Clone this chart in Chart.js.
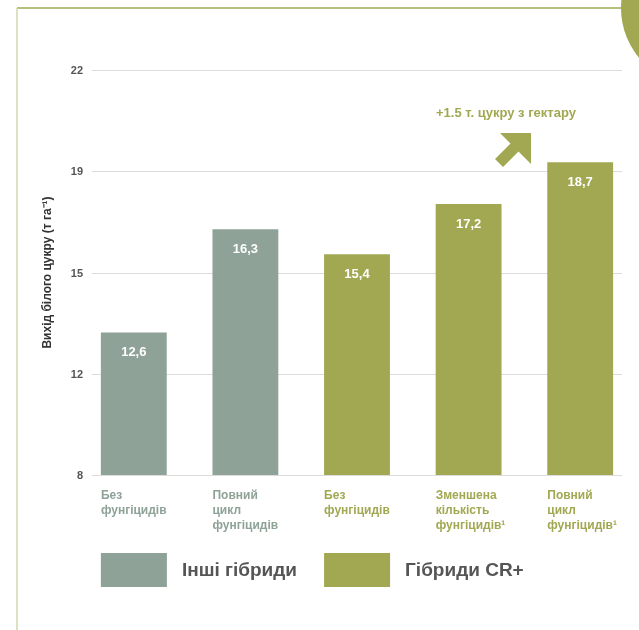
<!DOCTYPE html>
<html lang="uk">
<head>
<meta charset="utf-8">
<title>Вихід білого цукру</title>
<script src="https://cdn.jsdelivr.net/npm/chart.js@4"></script>
<style>
  html, body { margin: 0; padding: 0; background: #fff; }
  #wrap { position: relative; width: 639px; height: 630px; }
</style>
</head>
<body>
<div id="wrap"><canvas id="sugar"></canvas></div>
<script>
// data
const categories = [
  ["Без", "фунгіцидів"],
  ["Повний", "цикл", "фунгіцидів"],
  ["Без", "фунгіцидів"],
  ["Зменшена", "кількість", "фунгіцидів¹"],
  ["Повний", "цикл", "фунгіцидів¹"]
];
const otherHybrids = [12.6, 16.3, null, null, null];
const crHybrids = [null, null, 15.4, 17.2, 18.7];
const seriesNames = ["Інші гібриди", "Гібриди CR+"];
const yTickLabels = [8, 12, 15, 19, 22];
const yTitle = "Вихід білого цукру (т га⁻¹)";
const noteText = "+1.5 т. цукру з гектару";

const GREY = "#8ea297";
const OLIVE = "#a1a851";
const FONT = "'Liberation Sans', Arial, Helvetica, sans-serif";

// frame, grid, labels, legend and the arrow note
const extras = {
  id: "extras",
  beforeDraw(chart) {
    const ctx = chart.ctx;
    ctx.save();
    // top-right disc
    ctx.fillStyle = OLIVE;
    ctx.beginPath();
    ctx.arc(699, 8, 78, 0, Math.PI * 2);
    ctx.fill();
    // frame lines
    ctx.strokeStyle = OLIVE;
    ctx.lineWidth = 1.5;
    ctx.beginPath();
    ctx.moveTo(17, 8);
    ctx.lineTo(625, 8);
    ctx.stroke();
    ctx.strokeStyle = "#d2d7ae";
    ctx.beginPath();
    ctx.moveTo(17, 8);
    ctx.lineTo(17, 630);
    ctx.stroke();
    ctx.restore();
  },
  beforeDatasetsDraw(chart) {
    const ctx = chart.ctx;
    const y = chart.scales.y;
    const area = chart.chartArea;
    ctx.save();
    ctx.strokeStyle = "#dcdcdc";
    ctx.lineWidth = 1;
    ctx.fillStyle = "#555555";
    ctx.font = "bold 11px " + FONT;
    ctx.textAlign = "right";
    ctx.textBaseline = "middle";
    y.ticks.forEach((t, i) => {
      const py = Math.round(y.getPixelForTick(i)) + 0.5;
      ctx.beginPath();
      ctx.moveTo(area.left + 14, py);
      ctx.lineTo(area.right - 14, py);
      ctx.stroke();
      // tick label sits just left of the grid line
      ctx.fillText(yTickLabels[i], area.left + 5, py);
    });
    ctx.restore();
  },
  afterDatasetsDraw(chart) {
    const ctx = chart.ctx;
    const area = chart.chartArea;
    ctx.save();

    // values inside bars + category labels under them
    chart.data.datasets.forEach((ds, d) => {
      const meta = chart.getDatasetMeta(d);
      meta.data.forEach((bar, i) => {
        const v = ds.data[i];
        if (v == null) return;
        ctx.fillStyle = "#ffffff";
        ctx.font = "bold 13px " + FONT;
        ctx.textAlign = "center";
        ctx.textBaseline = "middle";
        ctx.fillText(v.toFixed(1).replace(".", ","), bar.x, bar.y + 20);

        const left = bar.x - bar.width / 2;
        ctx.fillStyle = ds.backgroundColor;
        ctx.font = "bold 12px " + FONT;
        ctx.textAlign = "left";
        categories[i].forEach((line, j) => {
          ctx.fillText(line, left, area.bottom + 21 + j * 15);
        });
      });
    });

    // legend, each entry under the first bar of its series
    chart.data.datasets.forEach((ds, d) => {
      const meta = chart.getDatasetMeta(d);
      const first = ds.data.findIndex(v => v != null);
      const bar = meta.data[first];
      const left = bar.x - bar.width / 2;
      ctx.fillStyle = ds.backgroundColor;
      ctx.fillRect(left, 553, 66, 34);
      ctx.fillStyle = "#555555";
      ctx.font = "bold 19px " + FONT;
      ctx.textAlign = "left";
      ctx.textBaseline = "middle";
      ctx.fillText(ds.label, left + 81, 571);
    });

    // note with arrow
    ctx.fillStyle = OLIVE;
    ctx.font = "bold 13px " + FONT;
    ctx.textAlign = "left";
    ctx.textBaseline = "middle";
    ctx.fillText(noteText, 436, 113);
    ctx.beginPath();
    ctx.moveTo(531, 133);
    ctx.lineTo(500, 133);
    ctx.lineTo(510.5, 143.5);
    ctx.lineTo(495, 159);
    ctx.lineTo(503, 167);
    ctx.lineTo(518.5, 151.5);
    ctx.lineTo(531, 164);
    ctx.closePath();
    ctx.fill();

    ctx.restore();
  }
};

new Chart("sugar", {
  type: "bar",
  data: {
    labels: categories,
    datasets: [
      {
        label: seriesNames[0],
        data: otherHybrids,
        backgroundColor: GREY,
        categoryPercentage: 1,
        barPercentage: 0.59
      },
      {
        label: seriesNames[1],
        data: crHybrids,
        backgroundColor: OLIVE,
        categoryPercentage: 1,
        barPercentage: 0.59
      }
    ]
  },
  options: {
    responsive: true,
    maintainAspectRatio: false,
    animation: false,
    layout: {
      padding: { left: 36, right: 3, top: 70, bottom: 155 }
    },
    plugins: {
      legend: { display: false },
      tooltip: { enabled: false }
    },
    scales: {
      x: {
        stacked: true,
        display: false
      },
      y: {
        stacked: true,
        min: 7.5,
        max: 22,
        grid: { display: false, drawTicks: false },
        border: { display: false },
        afterBuildTicks: (scale) => {
          const n = yTickLabels.length;
          scale.ticks = yTickLabels.map((_, i) => ({
            value: scale.min + (i * (scale.max - scale.min)) / (n - 1)
          }));
        },
        afterFit: (scale) => {
          scale.width = 42;
        },
        ticks: { display: false },
        title: {
          display: true,
          text: yTitle,
          color: "#333333",
          font: { family: FONT, size: 12, weight: "bold" },
          padding: { top: 4, bottom: 4 }
        }
      }
    }
  },
  plugins: [extras]
});
</script>
</body>
</html>
